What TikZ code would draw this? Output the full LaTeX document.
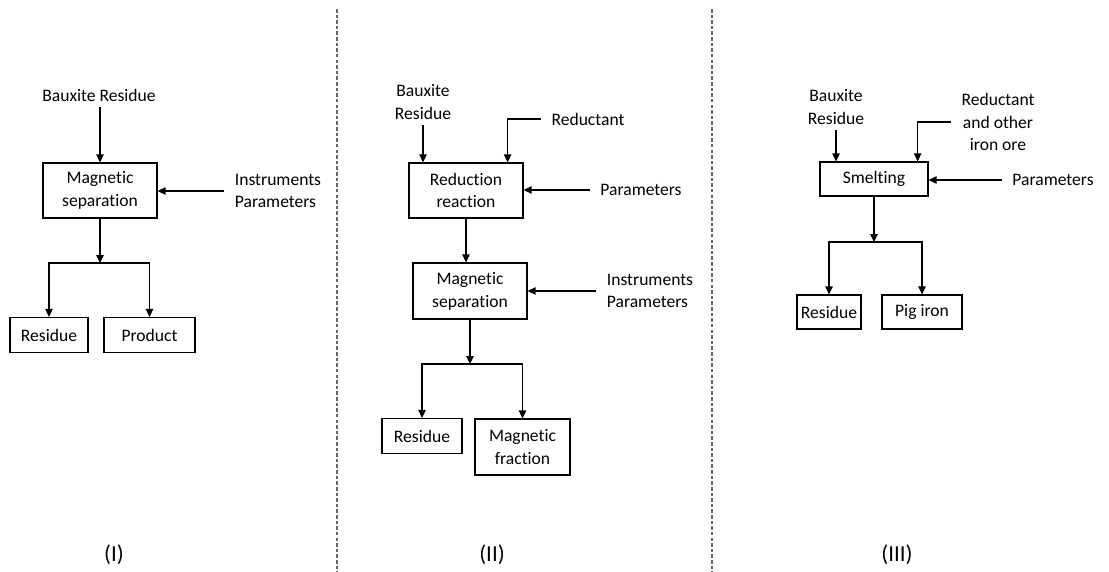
\documentclass[tikz,border=0pt]{standalone}
\usepackage{fontspec}
\setmainfont{Carlito}[Ligatures=NoCommon]
\usetikzlibrary{arrows.meta}

\begin{document}
\begin{tikzpicture}[
  procbox/.style={draw, rectangle, line width=0.7pt, align=center, font=\fontsize{10}{13}\selectfont, minimum width=2.28cm, minimum height=1.10cm, inner sep=2pt},
  outbox/.style={draw, rectangle, line width=0.7pt, align=center, font=\fontsize{10}{13}\selectfont, minimum height=0.70cm, inner sep=2pt},
  feedtext/.style={align=center, font=\fontsize{10}{13}\selectfont, inner xsep=6pt, inner ysep=3pt},
  panel/.style={font=\fontsize{13}{15}\selectfont},
  divider/.style={gray!80!black, line width=0.6pt, dash pattern=on 2pt off 1.2pt},
  arrow/.style={-{Triangle[length=4.5pt, width=4.2pt]}, line width=0.7pt}
]

\useasboundingbox (0,0) rectangle (22.18,-11.44);

\draw[divider] (6.74,-0.18) -- (6.74,-11.44);
\draw[divider] (14.24,-0.18) -- (14.24,-11.44);

\node[feedtext] (br1) at (1.98,-1.90) {Bauxite Residue};
\node[procbox] (ms1) at (2.00,-3.81) {Magnetic\\separation};
\node[feedtext, align=left] (ip1) at (5.56,-3.82) {Instruments\\Parameters};
\coordinate (s1) at (2.00,-5.26);
\node[outbox, minimum width=1.56cm] (res1) at (0.98,-6.70) {Residue};
\node[outbox, minimum width=1.82cm] (prod1) at (2.99,-6.70) {Product};
\node[panel] (lab1) at (2.28,-11.10) {(I)};

\draw[arrow] (br1.south -| ms1.north) -- (ms1.north);
\draw[arrow] (ip1.west) -- (ip1.west -| ms1.east);
\draw[arrow] (ms1.south) -- (s1);
\draw[arrow] (s1) -| (res1.north);
\draw[arrow] (s1) -| (prod1.north);

\node[feedtext] (br2) at (8.46,-2.04) {Bauxite\\Residue};
\node[feedtext] (red2) at (11.76,-2.38) {Reductant};
\node[procbox] (rr2) at (9.32,-3.81) {Reduction\\reaction};
\node[feedtext] (par2) at (12.82,-3.80) {Parameters};
\node[procbox, minimum height=1.12cm] (ms2) at (9.40,-5.82) {Magnetic\\separation};
\node[feedtext, align=left] (ip2) at (13.00,-5.82) {Instruments\\Parameters};
\coordinate (s2) at (9.40,-7.28);
\node[outbox, minimum width=1.60cm] (res2) at (8.44,-8.72) {Residue};
\node[outbox, minimum width=1.90cm, minimum height=1.12cm] (mf2) at (10.45,-8.94) {Magnetic\\fraction};
\node[panel] (lab2) at (9.84,-11.10) {(II)};

\draw[arrow] (br2.south) -- (br2.south |- rr2.north);
\draw[arrow] (red2.west) -| ([xshift=-0.32cm]rr2.north east);
\draw[arrow] (par2.west) -- (par2.west -| rr2.east);
\draw[arrow] (rr2.south) -- (rr2.south |- ms2.north);
\draw[arrow] (ip2.west) -- (ip2.west -| ms2.east);
\draw[arrow] (ms2.south) -- (s2);
\draw[arrow] (s2) -| (res2.north);
\draw[arrow] (s2) -| (mf2.north);

\node[feedtext] (br3) at (16.72,-2.14) {Bauxite\\Residue};
\node[feedtext] (red3) at (19.96,-2.44) {Reductant\\and other\\iron ore};
\node[procbox, minimum width=2.16cm, minimum height=0.68cm] (sm3) at (17.48,-3.58) {Smelting};
\node[feedtext] (par3) at (21.06,-3.60) {Parameters};
\coordinate (s3) at (17.48,-4.84);
\node[outbox, minimum width=1.28cm, minimum height=0.68cm] (res3) at (16.58,-6.24) {Residue};
\node[outbox, minimum width=1.60cm, minimum height=0.68cm] (pig3) at (18.44,-6.24) {Pig iron};
\node[panel] (lab3) at (17.94,-11.10) {(III)};

\draw[arrow] (br3.south) -- (br3.south |- sm3.north);
\draw[arrow] (red3.west) -| ([xshift=-0.22cm]sm3.north east);
\draw[arrow] (par3.west) -- (par3.west -| sm3.east);
\draw[arrow] (sm3.south) -- (s3);
\draw[arrow] (s3) -| (res3.north);
\draw[arrow] (s3) -| (pig3.north);

\end{tikzpicture}
\end{document}
